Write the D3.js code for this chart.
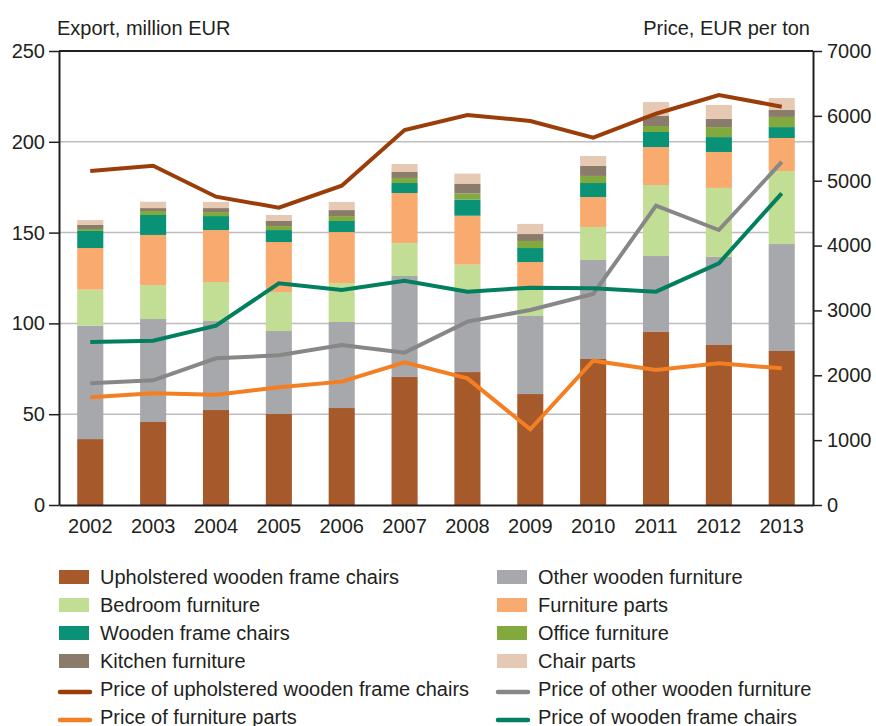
<!DOCTYPE html>
<html>
<head>
<meta charset="utf-8">
<script src="https://cdn.jsdelivr.net/npm/d3@7"></script>
<style>
  body { margin: 0; background: #fff; }
  text { font-family: "Liberation Sans", Arial, sans-serif; fill: #231f20; }
</style>
</head>
<body>
<div id="chart"></div>
<script>

var years = ["2002", "2003", "2004", "2005", "2006", "2007", "2008", "2009", "2010", "2011", "2012", "2013"];

// export, million EUR (stacked from bottom)
var upholsteredChairs = [36.3, 45.7, 52.3, 50.1, 53.4, 70.5, 73.2, 61.1, 80.4, 95.3, 88.1, 84.8];
var otherWooden       = [62.4, 56.7, 49.0, 45.7, 47.4, 55.6, 45.0, 43.0, 54.5, 41.8, 48.5, 58.9];
var bedroom           = [19.9, 18.7, 21.5, 21.5, 21.4, 18.2, 14.2, 15.4, 18.2, 39.1, 38.0, 40.2];
var furnitureParts    = [22.9, 27.6, 28.6, 27.5, 28.1, 27.5, 26.9, 14.3, 16.5, 20.9, 19.8, 18.2];
var woodenChairs      = [9.4, 11.0, 7.7, 6.6, 6.1, 5.5, 8.9, 7.7, 7.7, 8.3, 8.2, 6.0];
var office            = [1.1, 2.2, 2.2, 2.2, 2.7, 2.8, 3.3, 3.9, 3.9, 3.3, 5.5, 5.6];
var kitchen           = [2.2, 1.6, 2.2, 2.8, 3.3, 3.3, 5.5, 3.8, 5.5, 5.5, 4.5, 3.8];
var chairParts        = [2.7, 3.5, 3.4, 3.3, 4.5, 4.4, 5.5, 5.6, 5.5, 7.7, 7.7, 6.6];

// price, EUR per ton
var priceUpholstered = [5150, 5232, 4754, 4584, 4923, 5782, 6013, 5921, 5663, 6033, 6322, 6141];
var priceOther       = [1876, 1922, 2262, 2308, 2467, 2349, 2827, 3007, 3253, 4615, 4240, 5289];
var priceParts       = [1660, 1722, 1701, 1815, 1902, 2200, 1953, 1167, 2225, 2081, 2184, 2107];
var priceWooden      = [2513, 2534, 2765, 3418, 3315, 3459, 3289, 3351, 3341, 3289, 3726, 4806];

var leftTicks = [0, 50, 100, 150, 200, 250];
var rightTicks = [0, 1000, 2000, 3000, 4000, 5000, 6000, 7000];

var barSeries = [
    { name: "Upholstered wooden frame chairs", values: upholsteredChairs, color: "#a65a2b" },
    { name: "Other wooden furniture", values: otherWooden, color: "#a7a8ab" },
    { name: "Bedroom furniture", values: bedroom, color: "#c2dd94" },
    { name: "Furniture parts", values: furnitureParts, color: "#f8aa6f" },
    { name: "Wooden frame chairs", values: woodenChairs, color: "#0a9276" },
    { name: "Office furniture", values: office, color: "#82a93e" },
    { name: "Kitchen furniture", values: kitchen, color: "#8b7b6b" },
    { name: "Chair parts", values: chairParts, color: "#e6c9b3" }
];

var lineSeries = [
    { name: "Price of upholstered wooden frame chairs", values: priceUpholstered, color: "#9a3d08" },
    { name: "Price of other wooden furniture", values: priceOther, color: "#878787" },
    { name: "Price of furniture parts", values: priceParts, color: "#f37f22" },
    { name: "Price of wooden frame chairs", values: priceWooden, color: "#037f5f" }
];

var width = 876, height = 726;
var margin = { top: 51, right: 63, bottom: 221, left: 59 };
var plotW = width - margin.left - margin.right;
var plotH = height - margin.top - margin.bottom;

var svg = d3.select("#chart").append("svg")
    .attr("width", width)
    .attr("height", height);

var g = svg.append("g")
    .attr("transform", "translate(" + margin.left + "," + margin.top + ")");

var x = d3.scaleBand()
    .domain(years)
    .range([0, plotW])
    .paddingInner(0.585)
    .paddingOuter(0.29);

var yLeft = d3.scaleLinear().domain([0, 250]).range([plotH, 0]);
var yRight = d3.scaleLinear().domain([0, 7000]).range([plotH, 0]);

// grid lines
g.append("g")
    .selectAll("line")
    .data(leftTicks.filter(function (d) { return d > 0 && d < 250; }))
    .enter().append("line")
    .attr("x1", 0)
    .attr("x2", plotW)
    .attr("y1", function (d) { return yLeft(d); })
    .attr("y2", function (d) { return yLeft(d); })
    .attr("stroke", "#bdbdbd")
    .attr("stroke-width", 1.5);

// stacked bars
var rows = years.map(function (yr, i) {
    var row = { year: yr };
    barSeries.forEach(function (s) { row[s.name] = s.values[i]; });
    return row;
});

var stack = d3.stack().keys(barSeries.map(function (s) { return s.name; }));
var layers = stack(rows);

g.append("g")
    .selectAll("g")
    .data(layers)
    .enter().append("g")
    .attr("fill", function (d, i) { return barSeries[i].color; })
    .selectAll("rect")
    .data(function (d) { return d; })
    .enter().append("rect")
    .attr("x", function (d) { return x(d.data.year); })
    .attr("width", x.bandwidth())
    .attr("y", function (d) { return yLeft(d[1]); })
    .attr("height", function (d) { return yLeft(d[0]) - yLeft(d[1]); });

// price lines
var line = d3.line()
    .x(function (d, i) { return x(years[i]) + x.bandwidth() / 2; })
    .y(function (d) { return yRight(d); });

g.append("g")
    .selectAll("path")
    .data(lineSeries)
    .enter().append("path")
    .attr("d", function (d) { return line(d.values); })
    .attr("fill", "none")
    .attr("stroke", function (d) { return d.color; })
    .attr("stroke-width", 4)
    .attr("stroke-linejoin", "miter");

// frame: top and bottom
g.append("line")
    .attr("x1", 0).attr("x2", plotW)
    .attr("y1", 0).attr("y2", 0)
    .attr("stroke", "#231f20").attr("stroke-width", 2);

var xAxis = g.append("g")
    .attr("transform", "translate(0," + plotH + ")")
    .call(d3.axisBottom(x).tickSize(0).tickPadding(14));

var leftAxis = g.append("g")
    .call(d3.axisLeft(yLeft).tickValues(leftTicks).tickSize(10).tickPadding(4).tickSizeOuter(0));

var rightAxis = g.append("g")
    .attr("transform", "translate(" + plotW + ",0)")
    .call(d3.axisRight(yRight).tickValues(rightTicks).tickFormat(d3.format("d"))
        .tickSize(9).tickPadding(5).tickSizeOuter(0));

[xAxis, leftAxis, rightAxis].forEach(function (ax) {
    ax.select(".domain").attr("stroke", "#231f20").attr("stroke-width", 2);
    ax.selectAll(".tick line").attr("stroke", "#231f20").attr("stroke-width", 1.5);
    ax.selectAll("text")
        .attr("font-family", "Liberation Sans, Arial, sans-serif")
        .attr("font-size", 20)
        .attr("fill", "#231f20");
});

// axis titles
svg.append("text")
    .attr("x", 57)
    .attr("y", 35)
    .attr("font-size", 20)
    .text("Export, million EUR");

svg.append("text")
    .attr("x", 810)
    .attr("y", 35)
    .attr("text-anchor", "end")
    .attr("font-size", 20)
    .text("Price, EUR per ton");

// legend
var legendItems = [];
barSeries.forEach(function (s) { legendItems.push({ name: s.name, color: s.color, type: "bar" }); });
lineSeries.forEach(function (s) { legendItems.push({ name: s.name, color: s.color, type: "line" }); });

var legend = svg.append("g");
var item = legend.selectAll("g")
    .data(legendItems)
    .enter().append("g")
    .attr("transform", function (d, i) {
        var col = i % 2, row = Math.floor(i / 2);
        return "translate(" + (col === 0 ? 59 : 497) + "," + (577 + row * 28) + ")";
    });

item.filter(function (d) { return d.type === "bar"; })
    .append("rect")
    .attr("x", 0)
    .attr("y", -7)
    .attr("width", 30)
    .attr("height", 14)
    .attr("fill", function (d) { return d.color; });

item.filter(function (d) { return d.type === "line"; })
    .append("line")
    .attr("x1", 1).attr("x2", 31)
    .attr("y1", 3).attr("y2", 3)
    .attr("stroke", function (d) { return d.color; })
    .attr("stroke-width", 4.5)
    .attr("stroke-linecap", "round");

item.append("text")
    .attr("x", 41)
    .attr("y", 7)
    .attr("font-size", 20)
    .text(function (d) { return d.name; });

</script>
</body>
</html>
